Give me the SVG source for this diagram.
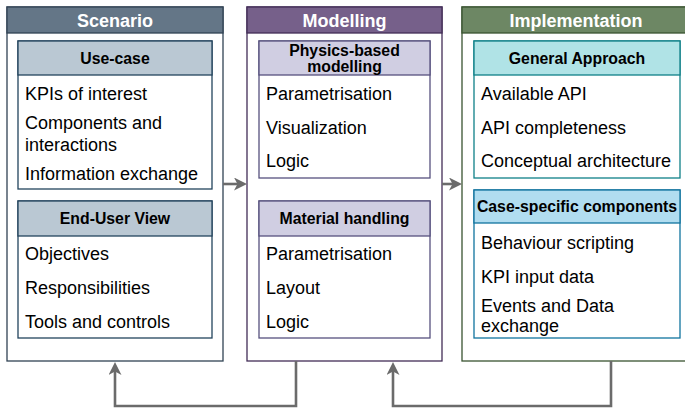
<svg xmlns="http://www.w3.org/2000/svg" width="685" height="408" viewBox="0 0 685 408">
  <style>
    text { font-family: "Liberation Sans", Arial, sans-serif; fill: #000; }
    .title { font-size: 18px; font-weight: bold; fill: #fff; text-anchor: middle; }
    .sub { font-size: 15.8px; font-weight: bold; text-anchor: middle; }
    .item { font-size: 18px; }
    .panel { fill: #fff; stroke-width: 1.3; }
    .card { fill: #fff; stroke-width: 1.3; }
    .flow { fill: none; stroke: #6b6b6b; stroke-width: 2.6; }
    .s-out { stroke: #314354; } .s-head { fill: #647687; stroke: #314354; stroke-width: 1.3; }
    .s-card { stroke: #23445d; } .s-chead { fill: #bac8d3; stroke: #23445d; stroke-width: 1.3; }
    .m-out { stroke: #432d57; } .m-head { fill: #76608a; stroke: #432d57; stroke-width: 1.3; }
    .m-card { stroke: #56517e; } .m-chead { fill: #d0cee2; stroke: #56517e; stroke-width: 1.3; }
    .i-out { stroke: #3a5431; } .i-head { fill: #6d8764; stroke: #3a5431; stroke-width: 1.3; }
    .g-card { stroke: #0e8088; } .g-chead { fill: #b0e3e6; stroke: #0e8088; stroke-width: 1.3; }
    .c-card { stroke: #10739e; } .c-chead { fill: #b1ddf0; stroke: #10739e; stroke-width: 1.3; }
  </style>
  <defs>
    <marker id="arrow" viewBox="0 0 13 13" markerWidth="13" markerHeight="13" refX="5" refY="6.5" orient="auto" markerUnits="userSpaceOnUse">
      <path d="M0,0 L13,6.5 L0,13 L3.5,6.5 Z" fill="#6b6b6b"/>
    </marker>
  </defs>

  <!-- Scenario column -->
  <g id="scenario">
    <rect class="panel s-out" x="7" y="7" width="216" height="354"/>
    <rect class="s-head" x="7" y="7" width="216" height="26"/>
    <text class="title" x="115" y="27">Scenario</text>
  </g>
  <g id="use-case">
    <rect class="card s-card" x="18" y="41" width="194" height="148"/>
    <rect class="s-chead" x="18" y="41" width="194" height="34"/>
    <text class="sub" x="115" y="63.5">Use-case</text>
    <text class="item" x="25" y="99.5">KPIs of interest</text>
    <text class="item" x="25" y="129">Components and</text>
    <text class="item" x="25" y="150.5">interactions</text>
    <text class="item" x="25" y="179.5">Information exchange</text>
  </g>
  <g id="end-user-view">
    <rect class="card s-card" x="18" y="201" width="194" height="137"/>
    <rect class="s-chead" x="18" y="201" width="194" height="35"/>
    <text class="sub" x="115" y="224.3">End-User View</text>
    <text class="item" x="25" y="259.5">Objectives</text>
    <text class="item" x="25" y="293.5">Responsibilities</text>
    <text class="item" x="25" y="328">Tools and controls</text>
  </g>

  <!-- Modelling column -->
  <g id="modelling">
    <rect class="panel m-out" x="247" y="7" width="195" height="354"/>
    <rect class="m-head" x="247" y="7" width="195" height="26"/>
    <text class="title" x="344.5" y="27">Modelling</text>
  </g>
  <g id="physics-based-modelling">
    <rect class="card m-card" x="259" y="41" width="171" height="137"/>
    <rect class="m-chead" x="259" y="41" width="171" height="34"/>
    <text class="sub" x="344.5" y="55.5">Physics-based</text>
    <text class="sub" x="344.5" y="72">modelling</text>
    <text class="item" x="266" y="99.5">Parametrisation</text>
    <text class="item" x="266" y="133.5">Visualization</text>
    <text class="item" x="266" y="167">Logic</text>
  </g>
  <g id="material-handling">
    <rect class="card m-card" x="259" y="201" width="171" height="137"/>
    <rect class="m-chead" x="259" y="201" width="171" height="35"/>
    <text class="sub" x="344.5" y="224.3">Material handling</text>
    <text class="item" x="266" y="259.5">Parametrisation</text>
    <text class="item" x="266" y="293.5">Layout</text>
    <text class="item" x="266" y="328">Logic</text>
  </g>

  <!-- Implementation column -->
  <g id="implementation">
    <rect class="panel i-out" x="462" y="7" width="230" height="354"/>
    <rect class="i-head" x="462" y="7" width="230" height="26"/>
    <text class="title" x="576" y="27">Implementation</text>
  </g>
  <g id="general-approach">
    <rect class="card g-card" x="474" y="41" width="206" height="137"/>
    <rect class="g-chead" x="474" y="41" width="206" height="34"/>
    <text class="sub" x="577" y="63.5">General Approach</text>
    <text class="item" x="481" y="99.5">Available API</text>
    <text class="item" x="481" y="133.5">API completeness</text>
    <text class="item" x="481" y="167">Conceptual architecture</text>
  </g>
  <g id="case-specific-components">
    <rect class="card c-card" x="474" y="190" width="206" height="148"/>
    <rect class="c-chead" x="474" y="190" width="206" height="33"/>
    <text class="sub" x="577" y="211.7">Case-specific components</text>
    <text class="item" x="481" y="248.5">Behaviour scripting</text>
    <text class="item" x="481" y="282.5">KPI input data</text>
    <text class="item" x="481" y="312">Events and Data</text>
    <text class="item" x="481" y="332">exchange</text>
  </g>

  <!-- Connectors -->
  <g id="connectors">
    <path class="flow" d="M223,184 H239" marker-end="url(#arrow)"/>
    <path class="flow" d="M442,184 H454" marker-end="url(#arrow)"/>
    <path class="flow" d="M296,361 V406 H115 V370" marker-end="url(#arrow)"/>
    <path class="flow" d="M611,361 V406 H393 V370" marker-end="url(#arrow)"/>
  </g>
</svg>
